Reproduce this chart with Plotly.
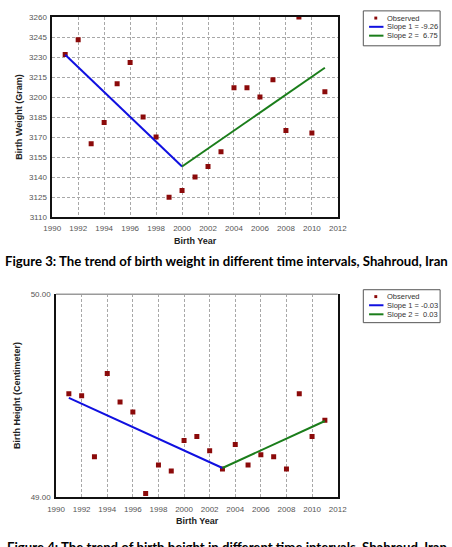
import plotly.graph_objects as go

W, H = 452, 547

# ---------------- data ----------------
years = [1991, 1992, 1993, 1994, 1995, 1996, 1997, 1998, 1999, 2000, 2001,
         2002, 2003, 2004, 2005, 2006, 2007, 2008, 2009, 2010, 2011]
weight = [3232, 3243, 3165, 3181, 3210, 3226, 3185, 3170, 3125, 3130, 3140,
          3148, 3159, 3207, 3207, 3200, 3213, 3175, 3260, 3173, 3204]
height = [49.51, 49.50, 49.20, 49.61, 49.47, 49.42, 49.02, 49.16, 49.13, 49.28, 49.30,
          49.23, 49.14, 49.26, 49.16, 49.21, 49.20, 49.14, 49.51, 49.30, 49.38]

# joinpoint fitted segments
w_seg1_x = [1991, 2000]
w_seg1_y = [3231.7, 3148.0]
w_seg2_x = [2000, 2011]
w_seg2_y = [3148.0, 3222.0]
h_seg1_x = [1991, 2003]
h_seg1_y = [49.49, 49.145]
h_seg2_x = [2003, 2011]
h_seg2_y = [49.145, 49.376]

w_legend = ["Observed", "Slope 1 = -9.26", "Slope 2 =  6.75"]
h_legend = ["Observed", "Slope 1 = -0.03", "Slope 2 =  0.03"]

x_ticks = [1990, 1992, 1994, 1996, 1998, 2000, 2002, 2004, 2006, 2008, 2010, 2012]
w_ticks = [3110, 3125, 3140, 3155, 3170, 3185, 3200, 3215, 3230, 3245, 3260]
h_ticks = [49.0, 50.0]

captions = ["Figure 3: The trend of birth weight in different time intervals, Shahroud, Iran",
            "Figure 4: The trend of birth height in different time intervals, Shahroud, Iran"]

# ---------------- styles ----------------
RED = "#8b0a0a"
BLUE = "#1010e0"
GREEN = "#1a7d1a"
TICKFONT = dict(family="Liberation Sans, Arial", size=8, color="#555555")
TITLEFONT = dict(family="Liberation Sans, Arial", size=9, color="#222222", weight="bold")
CAPFONT = dict(family="Lato, Liberation Sans", size=13.2, color="#000000", weight="bold")
LEGFONT = dict(family="Liberation Sans Narrow, Liberation Sans, Arial", size=7.5, color="#333333")


def px(x):
    return x / W


def py(y):
    return 1 - y / H


fig = go.Figure()

# chart 1
fig.add_trace(go.Scatter(x=years, y=weight, mode="markers", xaxis="x", yaxis="y",
                         marker=dict(symbol="square", size=5, color=RED), showlegend=False))
fig.add_trace(go.Scatter(x=w_seg1_x, y=w_seg1_y, mode="lines", xaxis="x", yaxis="y",
                         line=dict(color=BLUE, width=2), showlegend=False))
fig.add_trace(go.Scatter(x=w_seg2_x, y=w_seg2_y, mode="lines", xaxis="x", yaxis="y",
                         line=dict(color=GREEN, width=2), showlegend=False))
# chart 2
fig.add_trace(go.Scatter(x=years, y=height, mode="markers", xaxis="x2", yaxis="y2",
                         marker=dict(symbol="square", size=5, color=RED), showlegend=False))
fig.add_trace(go.Scatter(x=h_seg1_x, y=h_seg1_y, mode="lines", xaxis="x2", yaxis="y2",
                         line=dict(color=BLUE, width=2), showlegend=False))
fig.add_trace(go.Scatter(x=h_seg2_x, y=h_seg2_y, mode="lines", xaxis="x2", yaxis="y2",
                         line=dict(color=GREEN, width=2), showlegend=False))

common_x = dict(range=[x_ticks[0], x_ticks[-1]], tickvals=x_ticks, tickfont=TICKFONT,
                showgrid=True, gridcolor="#a8a8a8", griddash="3px,2px", gridwidth=1,
                zeroline=False, ticks="", ticklabelstandoff=3, fixedrange=True)

fig.update_layout(
    width=W, height=H, margin=dict(l=0, r=0, t=0, b=0),
    paper_bgcolor="white", plot_bgcolor="white", showlegend=False,
    xaxis=dict(common_x, domain=[px(45), px(342.5)], anchor="y",
               showline=True, linecolor="#111111", linewidth=1.5, mirror=True),
    yaxis=dict(domain=[py(216.7), py(13.3)], anchor="x", range=[w_ticks[0], w_ticks[-1]],
               tickvals=w_ticks, tickfont=TICKFONT, showgrid=True, gridcolor="#a8a8a8",
               griddash="3px,2px", zeroline=False, ticks="", ticklabelstandoff=2,
               showline=True, linecolor="#111111", linewidth=1.5, mirror=True),
    xaxis2=dict(common_x, domain=[px(49), px(342.3)], anchor="y2",
                showline=True, linecolor="#111111", linewidth=1.5),
    yaxis2=dict(domain=[py(501.7), py(295)], anchor="x2", range=[h_ticks[0], h_ticks[-1]],
                tickvals=h_ticks, tickformat=".2f", tickfont=TICKFONT, showgrid=False,
                zeroline=False, ticks="", ticklabelstandoff=2,
                showline=True, linecolor="#111111", linewidth=1.5, mirror=True),
)

shapes = [
    # grey top border of chart 2
    dict(type="line", xref="x2 domain", yref="y2 domain", x0=0, x1=1, y0=1, y1=1,
         line=dict(color="#9a9a9a", width=1.5)),
]
annotations = [
    dict(text="Birth Weight (Gram)", x=px(11), y=py(115), textangle=-90, font=TITLEFONT),
    dict(text="Birth Year", x=px(194), y=py(241), font=TITLEFONT),
    dict(text=captions[0], x=px(227), y=py(261), font=CAPFONT),
    dict(text="Birth Height (Centimeter)", x=px(9), y=py(398), textangle=-90, font=TITLEFONT),
    dict(text="Birth Year", x=px(196), y=py(526), font=TITLEFONT),
    dict(text=captions[1], x=px(227), y=py(552), font=CAPFONT),
]


def add_legend(box, rows, labels):
    x0, y0, x1, y1 = box
    shapes.append(dict(type="rect", xref="paper", yref="paper", x0=px(x0), x1=px(x1),
                       y0=py(y1), y1=py(y0), line=dict(color="#555555", width=1),
                       fillcolor="white"))
    # marker row
    shapes.append(dict(type="rect", xref="paper", yref="paper", x0=px(380.5), x1=px(383.5),
                       y0=py(rows[0] + 1.5), y1=py(rows[0] - 1.5), line=dict(width=0),
                       fillcolor=RED))
    for r, c in zip(rows[1:], [BLUE, GREEN]):
        shapes.append(dict(type="line", xref="paper", yref="paper", x0=px(375), x1=px(390),
                           y0=py(r), y1=py(r), line=dict(color=c, width=2)))
    for r, t in zip(rows, labels):
        annotations.append(dict(text=t, x=px(392), y=py(r), xanchor="left", font=LEGFONT))


add_legend((369, 7, 449, 42.5), [14.3, 23.2, 32.2], w_legend)
add_legend((369, 290.5, 449, 324), [297.5, 306.3, 315.5], h_legend)

for a in annotations:
    a.setdefault("xref", "paper")
    a.setdefault("yref", "paper")
    a.setdefault("showarrow", False)
    a.setdefault("xanchor", "center")
    a.setdefault("yanchor", "middle")

fig.update_layout(shapes=shapes, annotations=annotations)
fig.write_html("out.html")
